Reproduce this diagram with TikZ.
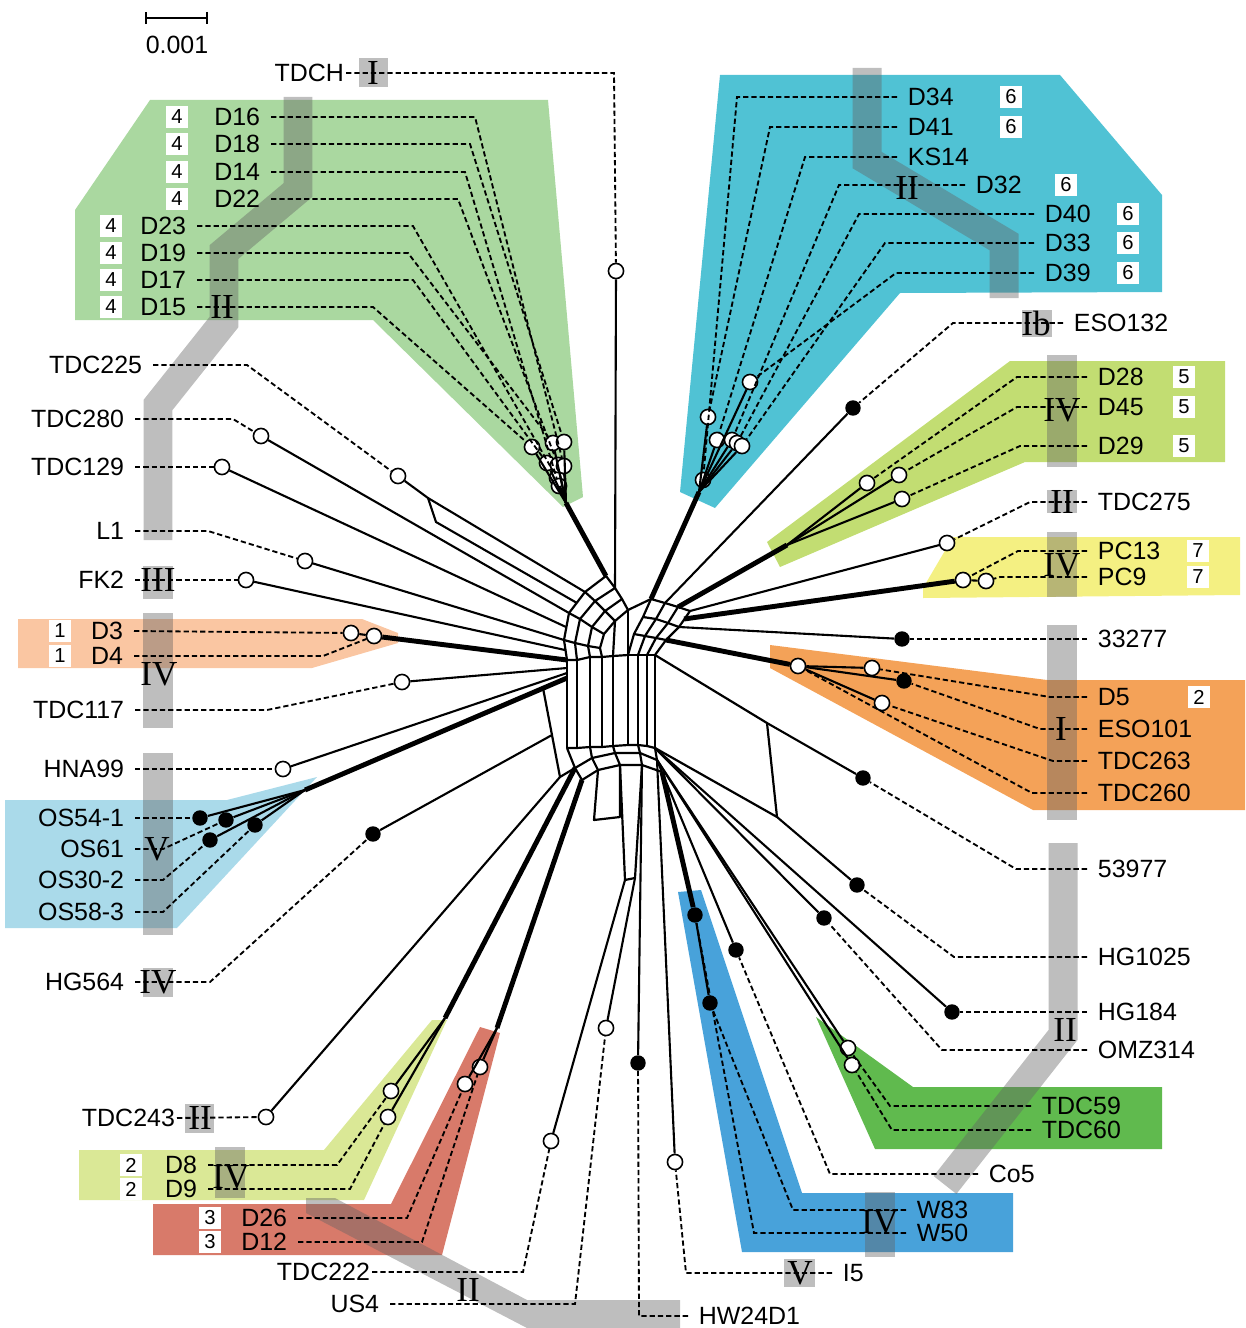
\documentclass[tikz,border=0pt]{standalone}
\usepackage{fontspec}
\setmainfont{Liberation Sans}
\newfontfamily\romfont{Liberation Serif}
\usetikzlibrary{arrows.meta}

\definecolor{cladeA}{RGB}{170,216,160}
\definecolor{cladeB}{RGB}{80,194,212}
\definecolor{cladeC}{RGB}{194,221,114}
\definecolor{cladeD}{RGB}{244,240,130}
\definecolor{cladeE}{RGB}{250,198,162}
\definecolor{cladeF}{RGB}{244,162,88}
\definecolor{cladeG}{RGB}{170,218,234}
\definecolor{cladeH}{RGB}{218,232,150}
\definecolor{cladeI}{RGB}{216,122,106}
\definecolor{cladeJ}{RGB}{72,162,218}
\definecolor{cladeK}{RGB}{96,186,78}
\definecolor{bandgray}{RGB}{100,100,100}

\begin{document}
\begin{tikzpicture}[x=0.02cm, y=0.02cm]
\tikzstyle{every node}+=[inner sep=0pt]
\tikzstyle{taxon}=[font=\fontsize{14.2}{16}\selectfont, inner xsep=6pt]
\tikzstyle{numbox}=[fill=white, minimum size=12pt, font=\fontsize{11.5}{12}\selectfont]
\tikzstyle{opendot}=[circle, draw, fill=white, line width=0.9pt, minimum size=8.6pt]
\tikzstyle{solidot}=[circle, fill=black, minimum size=8.8pt]
\tikzstyle{netline}=[line width=1.25pt, line join=round]
\tikzstyle{ray}=[line width=1.2pt]
\tikzstyle{thickray}=[line width=2.8pt]
\tikzstyle{dashray}=[line width=1.05pt, dash pattern=on 3pt off 1.7pt]
\tikzstyle{grayband}=[fill=bandgray, fill opacity=0.42]
\tikzstyle{bandline}=[draw=bandgray, draw opacity=0.42, line width=16.5pt]
\tikzstyle{cladeno}=[font=\romfont\fontsize{20}{20}\selectfont]

\useasboundingbox (0,0) rectangle (1245,-1328);

\fill[cladeA] (150,-100) -- (548,-100) -- (583,-497) -- (563,-507) -- (373,-320) -- (75,-320) -- (75,-210) -- cycle;
\fill[cladeB] (720,-75) -- (1060,-75) -- (1162,-195) -- (1162,-292) -- (900,-293) -- (715,-508) -- (680,-492) -- cycle;
\fill[cladeC] (1010,-361) -- (1225,-361) -- (1225,-462) -- (1025,-462) -- (780,-567) -- (767,-542) -- cycle;
\fill[cladeD] (953,-537) -- (1240,-537) -- (1240,-595) -- (923,-598) -- (923,-588) -- cycle;
\fill[cladeE] (18,-619) -- (362,-619) -- (398,-633) -- (398,-643) -- (312,-668) -- (18,-668) -- cycle;
\fill[cladeF] (770,-645) -- (1047,-680) -- (1245,-680) -- (1245,-810) -- (1033,-810) -- (770,-668) -- cycle;
\fill[cladeG] (5,-800) -- (227,-800) -- (317,-777) -- (177,-928) -- (5,-928) -- cycle;
\fill[cladeH] (79,-1150) -- (324,-1150) -- (432,-1020) -- (447,-1020) -- (364,-1200) -- (79,-1200) -- cycle;
\fill[cladeI] (153,-1204) -- (391,-1204) -- (480,-1027) -- (500,-1033) -- (442,-1255) -- (153,-1255) -- cycle;
\fill[cladeJ] (678,-892) -- (701,-890) -- (802,-1193) -- (1013,-1193) -- (1013,-1252) -- (742,-1252) -- cycle;
\fill[cladeK] (816,-1017) -- (913,-1087) -- (1162,-1087) -- (1162,-1149) -- (875,-1149) -- cycle;

\draw[bandline] (298,-97) -- (298,-190) -- (224,-252) -- (224,-322) -- (158,-405) -- (158,-540);
\draw[bandline] (867,-68) -- (867,-160) -- (1004,-242) -- (1004,-298);
\draw[bandline] (1063,-843) -- (1063,-1035) -- (945,-1185);
\fill[grayband] (306,-1198) -- (335,-1198) -- (527,-1300) -- (680,-1300) -- (680,-1328) -- (527,-1328) -- (306,-1213) -- cycle;
\foreach \xa/\ya/\xb/\yb in {359/58/388/87, 143/566/173/599, 143/613/173/728, 143/753/173/935,
  143/968/173/997, 185/1104/214/1133, 215/1147/245/1198, 1022/310/1052/337, 1047/355/1077/467,
  1047/490/1077/513, 1047/532/1077/597, 1047/625/1077/820, 865/1192/895/1257, 784/1259/815/1287}
  \fill[grayband] (\xa,-\ya) rectangle (\xb,-\yb);

\draw[{Bar[width=7pt]}-{Bar[width=7pt]}, line width=1pt] (145,-18) -- (208,-18);
\node[taxon] (scale) at (177,-45) {0.001};

\node[taxon, anchor=east, inner xsep=1pt] (tdch) at (346,-73) {TDCH};
\node[taxon, anchor=east] (d16) at (271,-117) {D16};
\node[taxon, anchor=east] (d18) at (271,-144) {D18};
\node[taxon, anchor=east] (d14) at (271,-172) {D14};
\node[taxon, anchor=east] (d22) at (271,-199) {D22};
\node[taxon, anchor=east] (d23) at (197,-226) {D23};
\node[taxon, anchor=east] (d19) at (197,-253) {D19};
\node[taxon, anchor=east] (d17) at (197,-280) {D17};
\node[taxon, anchor=east] (d15) at (197,-307) {D15};
\node[taxon, anchor=east] (tdc225) at (153,-365) {TDC225};
\node[taxon, anchor=east] (tdc280) at (135,-419) {TDC280};
\node[taxon, anchor=east] (tdc129) at (135,-467) {TDC129};
\node[taxon, anchor=east] (l1) at (135,-531) {L1};
\node[taxon, anchor=east] (fk2) at (135,-580) {FK2};
\node[taxon, anchor=east] (d3) at (134,-631) {D3};
\node[taxon, anchor=east] (d4) at (134,-656) {D4};
\node[taxon, anchor=east] (tdc117) at (135,-710) {TDC117};
\node[taxon, anchor=east] (hna99) at (135,-769) {HNA99};
\node[taxon, anchor=east] (os541) at (135,-818) {OS54-1};
\node[taxon, anchor=east] (os61) at (135,-849) {OS61};
\node[taxon, anchor=east] (os302) at (135,-880) {OS30-2};
\node[taxon, anchor=east] (os583) at (135,-912) {OS58-3};
\node[taxon, anchor=east] (hg564) at (135,-982) {HG564};
\node[taxon, anchor=east, inner xsep=1pt] (tdc243) at (177,-1118) {TDC243};
\node[taxon, anchor=east] (d8) at (208,-1165) {D8};
\node[taxon, anchor=east] (d9) at (208,-1189) {D9};
\node[taxon, anchor=east] (d26) at (298,-1218) {D26};
\node[taxon, anchor=east] (d12) at (298,-1242) {D12};
\node[taxon, anchor=east, inner xsep=1pt] (tdc222) at (372,-1272) {TDC222};
\node[taxon, anchor=east] (us4) at (390,-1304) {US4};

\node[taxon, anchor=west] (d34) at (897,-97) {D34};
\node[taxon, anchor=west] (d41) at (897,-127) {D41};
\node[taxon, anchor=west] (ks14) at (897,-157) {KS14};
\node[taxon, anchor=west] (d32) at (965,-185) {D32};
\node[taxon, anchor=west] (d40) at (1034,-214) {D40};
\node[taxon, anchor=west] (d33) at (1034,-243) {D33};
\node[taxon, anchor=west] (d39) at (1034,-273) {D39};
\node[taxon, anchor=west] (eso132) at (1063,-323) {ESO132};
\node[taxon, anchor=west] (d28) at (1087,-377) {D28};
\node[taxon, anchor=west] (d45) at (1087,-407) {D45};
\node[taxon, anchor=west] (d29) at (1087,-446) {D29};
\node[taxon, anchor=west] (tdc275) at (1087,-502) {TDC275};
\node[taxon, anchor=west] (pc13) at (1087,-551) {PC13};
\node[taxon, anchor=west] (pc9) at (1087,-577) {PC9};
\node[taxon, anchor=west] (n33277) at (1087,-639) {33277};
\node[taxon, anchor=west] (d5) at (1087,-697) {D5};
\node[taxon, anchor=west] (eso101) at (1087,-729) {ESO101};
\node[taxon, anchor=west] (tdc263) at (1087,-761) {TDC263};
\node[taxon, anchor=west] (tdc260) at (1087,-793) {TDC260};
\node[taxon, anchor=west] (n53977) at (1087,-869) {53977};
\node[taxon, anchor=west] (hg1025) at (1087,-957) {HG1025};
\node[taxon, anchor=west] (hg184) at (1087,-1012) {HG184};
\node[taxon, anchor=west] (omz314) at (1087,-1050) {OMZ314};
\node[taxon, anchor=west] (tdc59) at (1031,-1106) {TDC59};
\node[taxon, anchor=west] (tdc60) at (1031,-1130) {TDC60};
\node[taxon, anchor=west] (co5) at (978,-1174) {Co5};
\node[taxon, anchor=west] (w83) at (906,-1210) {W83};
\node[taxon, anchor=west] (w50) at (906,-1233) {W50};
\node[taxon, anchor=west] (i5) at (832,-1273) {I5};
\node[taxon, anchor=west] (hw24d1) at (688,-1316) {HW24D1};

\foreach \x/\y/\txt [count=\i] in {177/117/4, 177/144/4, 177/172/4, 177/199/4, 111/226/4, 111/253/4,
  111/280/4, 111/307/4, 60/631/1, 60/656/1, 131/1165/2, 131/1189/2, 210/1218/3, 210/1242/3,
  1011/97/6, 1011/127/6, 1066/185/6, 1128/214/6, 1128/243/6, 1128/273/6, 1184/377/5, 1184/407/5,
  1184/446/5, 1198/551/7, 1198/577/7, 1199/697/2}
  \node[numbox] (box\i) at (\x,-\y) {\txt};

\node[opendot] (tdchv) at (616,-271) {};
\node[opendot] (d15v) at (532,-447) {};
\node[opendot] (d17v) at (547,-463) {};
\node[opendot] (d19v) at (553,-443) {};
\node[opendot] (d23v) at (557,-478) {};
\node[opendot] (d22v) at (558,-465) {};
\node[opendot] (d14v) at (559,-486) {};
\node[opendot] (d18v) at (564,-442) {};
\node[opendot] (d16v) at (564,-466) {};
\node[opendot] (tdc225v) at (398,-476) {};
\node[opendot] (tdc280v) at (261,-436) {};
\node[opendot] (tdc129v) at (222,-467) {};
\node[opendot] (l1v) at (305,-561) {};
\node[opendot] (fk2v) at (246,-580) {};
\node[opendot] (d3v) at (351,-633) {};
\node[opendot] (d4v) at (374,-636) {};
\node[opendot] (tdc117v) at (402,-682) {};
\node[opendot] (hna99v) at (283,-769) {};
\node[solidot] (os541v) at (200,-818) {};
\node[solidot] (os61v) at (226,-820) {};
\node[solidot] (os302v) at (210,-840) {};
\node[solidot] (os583v) at (255,-825) {};
\node[solidot] (hg564v) at (373,-834) {};
\node[opendot] (tdc243v) at (266,-1117) {};
\node[opendot] (d8v) at (391,-1091) {};
\node[opendot] (d9v) at (388,-1117) {};
\node[opendot] (d26v) at (465,-1084) {};
\node[opendot] (d12v) at (480,-1067) {};
\node[opendot] (tdc222v) at (551,-1141) {};
\node[opendot] (us4v) at (606,-1028) {};
\node[solidot] (hw24d1v) at (638,-1063) {};
\node[opendot] (i5v) at (675,-1162) {};
\node[solidot] (w50v) at (695,-915) {};
\node[solidot] (w83v) at (710,-1003) {};
\node[solidot] (co5v) at (736,-950) {};
\node[opendot] (tdc59v) at (848,-1048) {};
\node[opendot] (tdc60v) at (852,-1065) {};
\node[solidot] (omz314v) at (824,-918) {};
\node[solidot] (hg184v) at (952,-1012) {};
\node[solidot] (hg1025v) at (857,-885) {};
\node[solidot] (n53977v) at (863,-778) {};
\node[opendot] (tdc260v) at (798,-666) {};
\node[opendot] (d5v) at (872,-668) {};
\node[solidot] (eso101v) at (904,-681) {};
\node[opendot] (tdc263v) at (882,-703) {};
\node[solidot] (n33277v) at (902,-639) {};
\node[opendot] (pc13v) at (963,-580) {};
\node[opendot] (pc9v) at (986,-581) {};
\node[opendot] (tdc275v) at (947,-543) {};
\node[opendot] (d28v) at (867,-483) {};
\node[opendot] (d45v) at (899,-475) {};
\node[opendot] (d29v) at (902,-499) {};
\node[solidot] (eso132v) at (853,-408) {};
\node[opendot] (d34v) at (703,-480) {};
\node[opendot] (d41v) at (708,-417) {};
\node[opendot] (ks14v) at (717,-440) {};
\node[opendot] (d32v) at (732,-440) {};
\node[opendot] (d40v) at (737,-443) {};
\node[opendot] (d33v) at (742,-446) {};
\node[opendot] (d39v) at (750,-382) {};

\coordinate (p00) at (567,-660); \coordinate (p01) at (564,-640); \coordinate (p02) at (569,-613);
\coordinate (p03) at (585,-592); \coordinate (p04) at (606,-576);
\coordinate (p10) at (577,-660); \coordinate (p11) at (575,-643); \coordinate (p12) at (580,-619);
\coordinate (p13) at (595,-601); \coordinate (p14) at (615,-588);
\coordinate (p20) at (590,-657); \coordinate (p21) at (588,-646); \coordinate (p22) at (592,-627);
\coordinate (p23) at (605,-611); \coordinate (p24) at (622,-599);
\coordinate (p30) at (602,-657); \coordinate (p31) at (600,-648); \coordinate (p32) at (604,-634);
\coordinate (p33) at (615,-621); \coordinate (p34) at (628,-610);
\coordinate (m00) at (655,-655); \coordinate (m01) at (666,-640); \coordinate (m02) at (679,-627); \coordinate (m03) at (690,-611);
\coordinate (m10) at (647,-655); \coordinate (m11) at (656,-638); \coordinate (m12) at (668,-623); \coordinate (m13) at (678,-607);
\coordinate (m20) at (638,-655); \coordinate (m21) at (645,-636); \coordinate (m22) at (656,-619); \coordinate (m23) at (665,-603);
\coordinate (m30) at (628,-655); \coordinate (m31) at (634,-634); \coordinate (m32) at (643,-617); \coordinate (m33) at (651,-599);
\foreach \x/\yt/\yb [count=\k from 0] in {567/660/748, 577/660/748, 590/657/747, 602/657/747, 613/656/746,
  628/655/745, 638/655/745, 647/655/746, 655/655/748}
  {\coordinate (t\k) at (\x,-\yt); \coordinate (b\k) at (\x,-\yb);}
\coordinate (a20) at (575,-768); \coordinate (a21) at (592,-758); \coordinate (a22) at (615,-753);
\coordinate (a23) at (640,-753); \coordinate (a24) at (657,-760);
\coordinate (a30) at (582,-780); \coordinate (a31) at (598,-770); \coordinate (a32) at (620,-765);
\coordinate (a33) at (642,-765); \coordinate (a34) at (662,-772);
\coordinate (ib1) at (594,-820); \coordinate (ib2) at (620,-817);
\coordinate (st1) at (625,-880); \coordinate (st2) at (635,-878);
\coordinate (ob) at (543,-688); \coordinate (ob2) at (560,-777); \coordinate (hgb) at (552,-735);
\coordinate (rb1) at (767,-723); \coordinate (rb2) at (777,-817);
\coordinate (h1) at (566,-627); \coordinate (h2) at (565,-650); \coordinate (h3) at (567,-668);
\coordinate (h4) at (567,-673); \coordinate (h5) at (567,-678); \coordinate (h6) at (577,-603);
\coordinate (c225a) at (428,-498); \coordinate (c225b) at (436,-522);
\coordinate (gj) at (566,-503); \coordinate (cyj) at (699,-492); \coordinate (ygj) at (787,-545);
\coordinate (hpc) at (684,-619); \coordinate (osj) at (305,-790);
\coordinate (d89j) at (445,-1018); \coordinate (d26j) at (497,-1028);

\foreach \i in {0,...,3}
  \draw[netline] (p\i0) -- (p\i1) -- (p\i2) -- (p\i3) -- (p\i4);
\foreach \j in {0,...,4}
  \draw[netline] (p0\j) -- (p1\j) -- (p2\j) -- (p3\j);
\foreach \i in {0,...,3}
  \draw[netline] (m\i0) -- (m\i1) -- (m\i2) -- (m\i3);
\foreach \j in {0,...,3}
  \draw[netline] (m0\j) -- (m1\j) -- (m2\j) -- (m3\j);
\foreach \k in {0,...,8}
  \draw[netline] (t\k) -- (b\k);
\draw[netline] (t3) -- (t4) -- (t5);
\draw[netline] (b0) -- (b1) -- (b2) -- (b3) -- (b4) -- (b5) -- (b6) -- (b7) -- (b8);
\draw[netline] (a20) -- (a21) -- (a22) -- (a23) -- (a24);
\draw[netline] (a30) -- (a31) -- (a32) -- (a33) -- (a34);
\foreach \k/\r in {0/0, 2/1, 4/2, 6/3, 8/4}
  \draw[netline] (b\k) -- (a2\r) -- (a3\r);
\draw[netline] (a31) -- (ib1) -- (ib2) -- (a32);
\draw[netline] (a32) -- (st1) -- (st2) -- (a33);
\draw[netline] (ob) -- (ob2) -- (a20);
\draw[netline] (t4) -- (p33);
\draw[netline] (p34) -- (m33);
\draw[netline] (p34) -- (t5);
\draw[netline] (m00) -- (rb1) -- (rb2) -- (b8);

\draw[ray] (tdchv) -- (p14);
\foreach \v in {d15v,d17v,d19v,d23v,d22v,d14v,d18v,d16v}
  \draw[ray] (\v) -- (gj);
\draw[thickray] (gj) -- (p04);
\draw[ray] (tdc225v) -- (c225a) -- (p03);
\draw[ray] (c225a) -- (c225b) -- (h6);
\draw[ray] (tdc280v) -- (p02);
\draw[ray] (tdc129v) -- (h1);
\draw[ray] (l1v) -- (p01);
\draw[ray] (fk2v) -- (h2);
\draw[ray] (d3v) -- (d4v);
\draw[thickray] (d4v) -- (p00);
\draw[ray] (tdc117v) -- (h3);
\draw[ray] (hna99v) -- (h4);
\foreach \v in {os541v,os61v,os302v,os583v}
  \draw[ray] (\v) -- (osj);
\draw[thickray] (osj) -- (h5);
\draw[ray] (hg564v) -- (hgb);
\draw[ray] (tdc243v) -- (ob2);
\draw[ray] (d8v) -- (d89j);
\draw[ray] (d9v) -- (d89j);
\draw[thickray] (d89j) -- (a20);
\draw[ray] (d26v) -- (d26j);
\draw[ray] (d12v) -- (d26j);
\draw[thickray] (d26j) -- (a30);
\draw[ray] (tdc222v) -- (st1);
\draw[ray] (us4v) -- (st2);
\draw[ray] (hw24d1v) -- (a33);
\draw[ray] (i5v) -- (a24);
\draw[thickray] (a34) -- (w50v);
\draw[ray] (w50v) -- (w83v);
\draw[ray] (co5v) -- (a34);
\draw[ray] (a24) -- (tdc59v);
\draw[ray] (a24) -- (tdc60v);
\draw[ray] (omz314v) -- (b8);
\draw[ray] (hg184v) -- (b8);
\draw[ray] (hg1025v) -- (rb2);
\draw[ray] (n53977v) -- (rb1);
\draw[thickray] (m01) -- (tdc260v);
\foreach \v in {d5v,eso101v,tdc263v}
  \draw[ray] (tdc260v) -- (\v);
\draw[ray] (n33277v) -- (m02);
\draw[thickray] (hpc) -- (pc13v);
\draw[ray] (pc13v) -- (pc9v);
\draw[ray] (tdc275v) -- (m03);
\foreach \v in {d28v,d45v,d29v}
  \draw[ray] (\v) -- (ygj);
\draw[thickray] (ygj) -- (m13);
\draw[ray] (eso132v) -- (m23);
\foreach \v in {d34v,d41v,ks14v,d32v,d40v,d33v,d39v}
  \draw[ray] (\v) -- (cyj);
\draw[thickray] (cyj) -- (m33);

\draw[dashray] (tdch.east) -- (614,-73) -- (tdchv);
\draw[dashray] (d16.east) -- (475,-117) -- (d16v);
\draw[dashray] (d18.east) -- (470,-144) -- (d18v);
\draw[dashray] (d14.east) -- (465,-172) -- (d14v);
\draw[dashray] (d22.east) -- (458,-199) -- (d22v);
\draw[dashray] (d23.east) -- (413,-226) -- (d23v);
\draw[dashray] (d19.east) -- (408,-253) -- (d19v);
\draw[dashray] (d17.east) -- (413,-280) -- (d17v);
\draw[dashray] (d15.east) -- (373,-307) -- (d15v);
\draw[dashray] (tdc225.east) -- (247,-365) -- (tdc225v);
\draw[dashray] (tdc280.east) -- (233,-419) -- (tdc280v);
\draw[dashray] (tdc129.east) -- (tdc129v);
\draw[dashray] (l1.east) -- (208,-531) -- (l1v);
\draw[dashray] (fk2.east) -- (fk2v);
\draw[dashray] (d3.east) -- (d3v);
\draw[dashray] (d4.east) -- (323,-656) -- (d4v);
\draw[dashray] (tdc117.east) -- (267,-710) -- (tdc117v);
\draw[dashray] (hna99.east) -- (hna99v);
\draw[dashray] (os541.east) -- (os541v);
\draw[dashray] (os61.east) -- (163,-849) -- (os61v);
\draw[dashray] (os302.east) -- (163,-880) -- (os302v);
\draw[dashray] (os583.east) -- (163,-912) -- (os583v);
\draw[dashray] (hg564.east) -- (210,-982) -- (hg564v);
\draw[dashray] (tdc243.east) -- (tdc243v);
\draw[dashray] (d8.east) -- (337,-1165) -- (d8v);
\draw[dashray] (d9.east) -- (350,-1189) -- (d9v);
\draw[dashray] (d26.east) -- (407,-1218) -- (d26v);
\draw[dashray] (d12.east) -- (422,-1242) -- (d12v);
\draw[dashray] (tdc222.east) -- (523,-1272) -- (tdc222v);
\draw[dashray] (us4.east) -- (575,-1304) -- (us4v);
\draw[dashray] (hw24d1.west) -- (639,-1316) -- (hw24d1v);
\draw[dashray] (i5.west) -- (686,-1273) -- (i5v);
\draw[dashray] (w83.west) -- (793,-1210) -- (w83v);
\draw[dashray] (w50.west) -- (754,-1233) -- (w50v);
\draw[dashray] (co5.west) -- (830,-1174) -- (co5v);
\draw[dashray] (tdc59.west) -- (890,-1106) -- (tdc59v);
\draw[dashray] (tdc60.west) -- (892,-1130) -- (tdc60v);
\draw[dashray] (omz314.west) -- (942,-1050) -- (omz314v);
\draw[dashray] (hg184.west) -- (hg184v);
\draw[dashray] (hg1025.west) -- (954,-957) -- (hg1025v);
\draw[dashray] (n53977.west) -- (1016,-869) -- (n53977v);
\draw[dashray] (tdc260.west) -- (1032,-793) -- (tdc260v);
\draw[dashray] (tdc263.west) -- (1053,-761) -- (tdc263v);
\draw[dashray] (eso101.west) -- (1040,-729) -- (eso101v);
\draw[dashray] (d5.west) -- (1050,-697) -- (d5v);
\draw[dashray] (n33277.west) -- (n33277v);
\draw[dashray] (pc9.west) -- (1000,-577) -- (pc9v);
\draw[dashray] (pc13.west) -- (1018,-551) -- (pc13v);
\draw[dashray] (tdc275.west) -- (1030,-502) -- (tdc275v);
\draw[dashray] (d29.west) -- (1020,-446) -- (d29v);
\draw[dashray] (d45.west) -- (1017,-407) -- (d45v);
\draw[dashray] (d28.west) -- (1017,-377) -- (d28v);
\draw[dashray] (eso132.west) -- (953,-323) -- (eso132v);
\draw[dashray] (d39.west) -- (896,-273) -- (d39v);
\draw[dashray] (d33.west) -- (885,-243) -- (d33v);
\draw[dashray] (d40.west) -- (859,-214) -- (d40v);
\draw[dashray] (d32.west) -- (839,-185) -- (d32v);
\draw[dashray] (ks14.west) -- (805,-157) -- (ks14v);
\draw[dashray] (d41.west) -- (770,-127) -- (d41v);
\draw[dashray] (d34.west) -- (737,-97) -- (d34v);

\foreach \x/\y/\txt [count=\i] in {373/73/I, 222/307/II, 158/580/III, 159/674/IV, 157/849/V, 158/982/IV,
  200/1118/II, 231/1177/IV, 468/1290/II, 800/1273/V, 880/1222/IV, 1065/1030/II, 1061/729/I,
  1062/565/IV, 1062/502/II, 1062/410/IV, 1036/323/Ib, 907/188/II}
  \node[cladeno] (mark\i) at (\x,-\y) {\txt};
\end{tikzpicture}
\end{document}
